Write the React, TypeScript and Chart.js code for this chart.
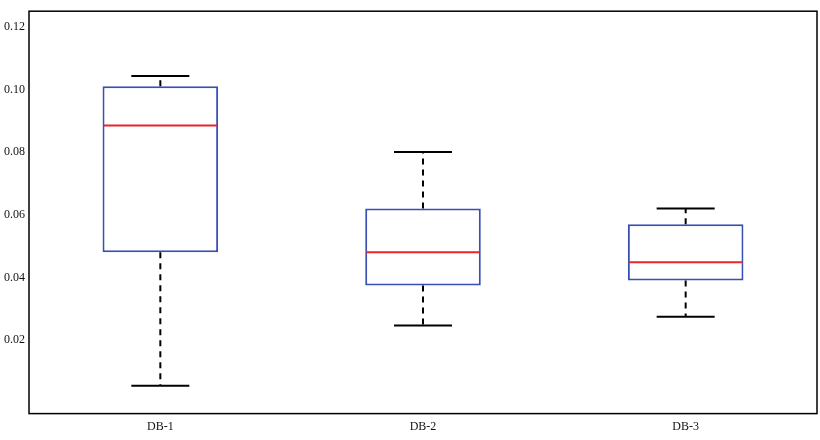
import { useEffect, useRef } from 'react';
import { Chart, registerables } from 'chart.js';

Chart.register(...registerables);

const categories = ['DB-1', 'DB-2', 'DB-3'];
const mins = [0.0054, 0.0246, 0.0274];
const q1s = [0.048, 0.0374, 0.039];
const medians = [0.0885, 0.048, 0.0448];
const q3s = [0.101, 0.062, 0.057];
const maxs = [0.1043, 0.08, 0.062];
const yTicks = [0.02, 0.04, 0.06, 0.08, 0.1, 0.12];

const boxPlugin = {
  id: 'boxExtras',
  afterDatasetsDraw(chart: any) {
    const { ctx, chartArea } = chart;
    const x = chart.scales.x;
    const y = chart.scales.y;
    const meta = chart.getDatasetMeta(0);
    ctx.save();
    categories.forEach((_, i) => {
      const bar = meta.data[i];
      const cx = x.getPixelForValue(i);
      const half = bar.width / 2;
      // whiskers
      ctx.strokeStyle = '#000';
      ctx.lineWidth = 2;
      ctx.setLineDash([6, 5]);
      ctx.beginPath();
      ctx.moveTo(cx, y.getPixelForValue(q3s[i]));
      ctx.lineTo(cx, y.getPixelForValue(maxs[i]));
      ctx.moveTo(cx, y.getPixelForValue(q1s[i]));
      ctx.lineTo(cx, y.getPixelForValue(mins[i]));
      ctx.stroke();
      ctx.setLineDash([]);
      ctx.beginPath();
      [mins[i], maxs[i]].forEach((v) => {
        const py = y.getPixelForValue(v);
        ctx.moveTo(cx - 29, py);
        ctx.lineTo(cx + 29, py);
      });
      ctx.stroke();
      // median
      ctx.strokeStyle = '#e8262a';
      ctx.beginPath();
      const my = y.getPixelForValue(medians[i]);
      ctx.moveTo(cx - half + 1, my);
      ctx.lineTo(cx + half - 1, my);
      ctx.stroke();
    });
    // frame
    ctx.strokeStyle = '#000';
    ctx.lineWidth = 1.5;
    ctx.strokeRect(chartArea.left, chartArea.top, chartArea.right - chartArea.left, chartArea.bottom - chartArea.top);
    ctx.restore();
  },
};

const App = () => {
  const canvasRef = useRef<HTMLCanvasElement>(null);
  const chartRef = useRef<Chart | null>(null);

  useEffect(() => {
    document.body.style.margin = '0';
    if (!canvasRef.current) return;
    if (chartRef.current) chartRef.current.destroy();
    const ctx = canvasRef.current.getContext('2d');
    if (!ctx) return;

    chartRef.current = new Chart(ctx, {
      type: 'bar',
      data: {
        labels: categories,
        datasets: [
          {
            data: categories.map((_, i) => [q1s[i], q3s[i]]) as any,
            backgroundColor: '#ffffff',
            borderColor: '#3a4fb5',
            borderWidth: 2,
            borderSkipped: false,
            barPercentage: 0.44,
            categoryPercentage: 1,
          },
        ],
      },
      options: {
        animation: false,
        responsive: true,
        maintainAspectRatio: false,
        layout: { padding: { top: 5, right: 3, bottom: 0, left: 0 } },
        plugins: { legend: { display: false }, tooltip: { enabled: false } },
        scales: {
          x: {
            grid: { display: false, drawTicks: false },
            border: { display: false },
            ticks: { color: '#111', padding: 6, font: { family: 'Liberation Serif', size: 12 } },
          },
          y: {
            min: -0.0035,
            max: 0.125,
            afterBuildTicks: (axis: any) => {
              axis.ticks = yTicks.map((v) => ({ value: v }));
            },
            grid: { display: false, drawTicks: false },
            border: { display: false },
            ticks: {
              color: '#111',
              padding: 4,
              font: { family: 'Liberation Serif', size: 12 },
              callback: (v: any) => Number(v).toFixed(2),
            },
          },
        },
      },
      plugins: [boxPlugin],
    });

    return () => {
      if (chartRef.current) chartRef.current.destroy();
    };
  }, []);

  return (
    <div style={{ width: 820, height: 440, background: '#fff' }}>
      <canvas ref={canvasRef} />
    </div>
  );
};

export default App;
